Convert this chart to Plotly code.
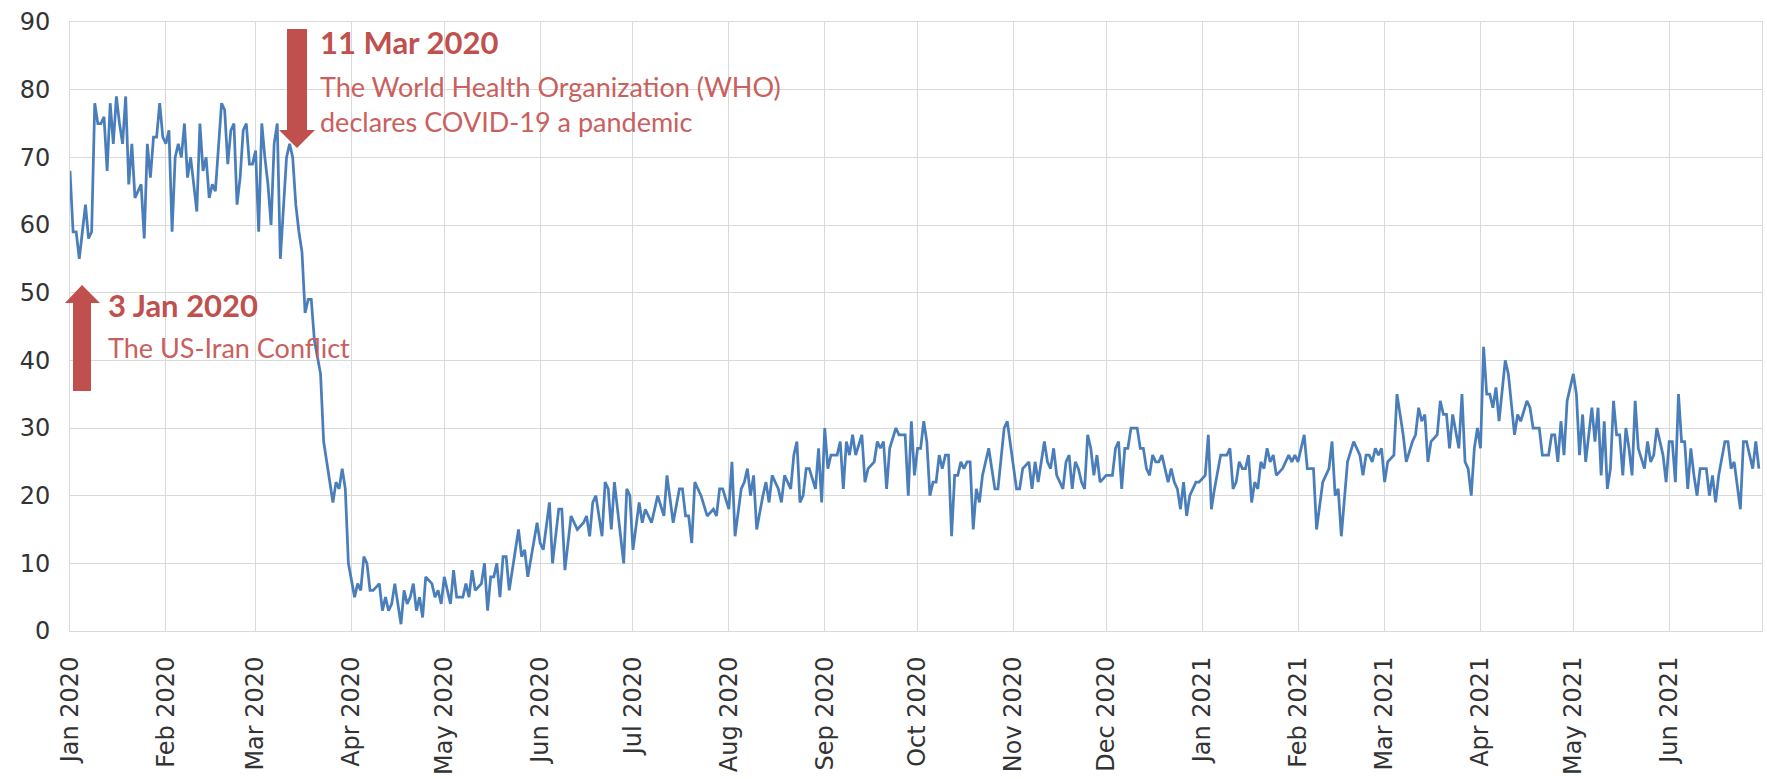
import pandas as pd
import plotly.graph_objects as go

START = pd.Timestamp('2020-01-01')

# day offsets from 1 Jan 2020 and the index values
days_q1_2020 = [0, 1, 2, 3, 4, 5, 6, 7, 8, 9, 10, 11, 12, 13, 14, 15, 16, 17, 18, 19,
                20, 21, 22, 23, 24, 25, 26, 27, 28, 29, 30, 31, 32, 33, 34, 35, 36, 37, 38, 39,
                40, 41, 42, 43, 44, 45, 46, 47, 49, 50, 51, 52, 53, 54, 55, 56, 57, 58, 59, 60,
                61, 62, 63, 64, 65, 66, 67, 68, 70, 71, 72, 73, 74, 75, 76, 77, 78, 79, 81, 82,
                83, 85, 86, 87, 88, 89]
vals_q1_2020 = [68, 59, 59, 55, 59, 63, 58, 59, 78, 75, 75, 76, 68, 78, 72, 79, 75, 72, 79, 66,
                72, 64, 65, 66, 58, 72, 67, 73, 73, 78, 73, 72, 74, 59, 70, 72, 70, 75, 67, 70,
                66, 62, 75, 68, 70, 64, 66, 65, 78, 77, 69, 74, 75, 63, 67, 74, 75, 69, 69, 71,
                59, 75, 70, 66, 60, 72, 75, 55, 70, 72, 70, 63, 59, 56, 47, 49, 49, 43, 38, 28,
                25, 19, 22, 21, 24, 21]

days_q2_2020 = [90, 92, 93, 94, 95, 96, 97, 98, 100, 101, 102, 103, 104, 105, 107, 108, 109, 110,
                111, 112, 113, 114, 115, 117, 118, 119, 120, 121, 122, 123, 124, 125, 126, 127,
                128, 129, 130, 131, 133, 134, 135, 136, 137, 138, 139, 140, 141, 142, 144, 145,
                146, 147, 148, 150, 151, 152, 153, 155, 156, 158, 159, 160, 162, 163, 164, 166,
                167, 168, 169, 170, 171, 172, 173, 174, 175, 176, 177, 179, 180, 181]
vals_q2_2020 = [10, 5, 7, 6, 11, 10, 6, 6, 7, 3, 5, 3, 4, 7, 1, 6, 4, 5,
                7, 3, 5, 2, 8, 7, 5, 6, 4, 8, 6, 4, 9, 5, 5, 5,
                7, 5, 9, 6, 7, 10, 3, 8, 8, 10, 5, 11, 11, 6, 12, 15,
                11, 12, 8, 13, 16, 13, 12, 19, 10, 18, 18, 9, 17, 16, 15, 16,
                17, 14, 19, 20, 17, 14, 22, 21, 15, 22, 18, 10, 21, 20]

days_q3_2020 = [182, 184, 185, 186, 188, 190, 192, 193, 195, 197, 198, 199, 200, 201, 202, 204,
                206, 208, 209, 210, 211, 213, 214, 215, 217, 218, 219, 220, 221, 222, 224, 225,
                226, 227, 229, 230, 231, 233, 234, 235, 236, 237, 238, 239, 241, 242, 243, 244,
                245, 246, 248, 249, 250, 251, 252, 253, 254, 256, 257, 258, 260, 261, 262, 263,
                264, 265, 267, 268, 270, 271, 272, 273]
vals_q3_2020 = [12, 19, 16, 18, 16, 20, 17, 23, 16, 21, 21, 17, 17, 13, 22, 20,
                17, 18, 17, 21, 21, 18, 25, 14, 21, 22, 24, 20, 23, 15, 20, 22,
                19, 23, 21, 19, 23, 21, 26, 28, 19, 20, 24, 24, 21, 27, 19, 30,
                24, 26, 26, 28, 21, 28, 26, 29, 26, 29, 22, 24, 25, 28, 27, 28,
                21, 27, 30, 29, 29, 20, 31, 23]

days_q4_2020 = [274, 275, 276, 277, 278, 279, 280, 281, 282, 283, 284, 285, 286, 287, 288, 289,
                290, 291, 292, 293, 294, 295, 297, 299, 300, 302, 303, 306, 307, 308, 310, 311,
                312, 313, 314, 315, 316, 317, 318, 319, 320, 321, 322, 323, 324, 325, 326, 327,
                328, 329, 330, 331, 332, 333, 335, 337, 338, 339, 340, 341, 342, 343, 345, 346,
                347, 348, 349, 350, 351, 352, 353, 355, 356, 357, 358, 359, 360, 361, 362, 364,
                365]
vals_q4_2020 = [27, 27, 31, 28, 20, 22, 22, 26, 24, 26, 26, 14, 23, 23, 25, 24,
                25, 25, 15, 21, 19, 23, 27, 21, 21, 30, 31, 21, 21, 24, 25, 21,
                25, 22, 25, 28, 25, 24, 27, 23, 22, 21, 25, 26, 21, 25, 24, 22,
                21, 29, 27, 23, 26, 22, 23, 23, 27, 28, 21, 27, 27, 30, 30, 27,
                27, 24, 23, 26, 25, 25, 26, 22, 24, 22, 21, 18, 22, 17, 20, 22,
                22]

days_q1_2021 = [367, 368, 369, 370, 372, 374, 375, 376, 377, 378, 379, 380, 381, 382, 383, 384,
                385, 386, 387, 388, 389, 390, 392, 394, 395, 396, 397, 399, 400, 402, 403, 405,
                407, 408, 409, 410, 411, 413, 415, 417, 418, 419, 420, 421, 422, 423, 424, 425,
                426, 428, 429, 431, 432, 434, 435, 436, 437, 438, 439, 440, 442, 443, 444, 445,
                446, 447, 449, 450, 451, 452, 453, 454]
vals_q1_2021 = [23, 29, 18, 21, 26, 26, 27, 21, 22, 25, 24, 24, 26, 19, 22, 21,
                25, 24, 27, 25, 26, 23, 24, 26, 25, 26, 25, 29, 24, 24, 15, 22,
                24, 28, 20, 21, 14, 25, 28, 26, 23, 26, 26, 25, 27, 26, 27, 22,
                25, 26, 35, 29, 25, 28, 29, 33, 31, 32, 25, 28, 29, 34, 32, 32,
                27, 32, 27, 35, 25, 24, 20, 27]

days_q2_2021 = [455, 456, 457, 458, 459, 460, 461, 462, 464, 465, 467, 468, 469, 471, 472, 473,
                475, 476, 478, 479, 480, 481, 482, 483, 484, 486, 487, 488, 489, 490, 492, 493,
                494, 495, 496, 497, 498, 499, 500, 501, 502, 503, 504, 505, 506, 507, 509, 510,
                511, 512, 513, 515, 516, 517, 518, 519, 520, 521, 522, 523, 524, 525, 526, 527,
                529, 530, 531, 532, 533, 535, 536, 537, 538, 540, 541, 542, 544, 545, 546]
vals_q2_2021 = [30, 27, 42, 35, 35, 33, 36, 31, 40, 38, 29, 32, 31, 34, 33, 30,
                30, 26, 26, 29, 29, 25, 31, 26, 34, 38, 35, 26, 32, 25, 33, 28,
                33, 23, 31, 21, 24, 34, 29, 29, 23, 30, 27, 23, 34, 27, 24, 28,
                25, 26, 30, 26, 22, 28, 28, 22, 35, 28, 28, 21, 27, 23, 20, 24,
                24, 20, 23, 19, 23, 28, 28, 24, 25, 18, 28, 28, 24, 28, 24]

days = (days_q1_2020 + days_q2_2020 + days_q3_2020 + days_q4_2020
        + days_q1_2021 + days_q2_2021)
vals = (vals_q1_2020 + vals_q2_2020 + vals_q3_2020 + vals_q4_2020
        + vals_q1_2021 + vals_q2_2021)
dates = START + pd.to_timedelta(days, unit='D')

month_ticks = pd.date_range('2020-01-01', '2021-07-01', freq='MS')
month_labels = [d.strftime('%b %Y') for d in month_ticks[:-1]] + ['']

RED = '#C0504D'
RED_TEXT = '#C9605D'
GRID = '#D9D9D9'

# figure geometry in pixels
W, H = 1767, 779
ML, MR, MT, MB = 70, 5, 22, 148


def to_paper(x, y):
    return (x - ML) / (W - ML - MR), (H - MB - y) / (H - MT - MB)


def arrow_path(points):
    pts = [to_paper(x, y) for x, y in points]
    return 'M ' + ' L '.join(f'{px:.5f},{py:.5f}' for px, py in pts) + ' Z'


down_arrow = [(287, 29), (307, 29), (307, 130), (315, 130), (297, 148), (279, 130), (287, 130)]
up_arrow = [(73, 391), (91, 391), (91, 303), (100, 303), (82, 285), (65, 303), (73, 303)]

fig = go.Figure()
fig.add_trace(go.Scatter(x=dates, y=vals, mode='lines',
                         line=dict(color='#4A7EBB', width=2.75), showlegend=False))

for pts in (down_arrow, up_arrow):
    fig.add_shape(type='path', xref='paper', yref='paper', path=arrow_path(pts),
                  fillcolor=RED, line=dict(width=0), layer='above')


def label(x, y, text, bold=False):
    px, py = to_paper(x, y)
    fig.add_annotation(x=px, y=py, xref='paper', yref='paper', text=f'<b>{text}</b>' if bold else text,
                       showarrow=False, xanchor='left', yanchor='middle',
                       font=dict(family='Lato', size=31 if bold else 27,
                                 color=RED if bold else RED_TEXT))


label(318, 42, '11 Mar 2020', bold=True)
label(318, 86, 'The World Health Organization (WHO)')
label(318, 121, 'declares COVID-19 a pandemic')
label(106, 305, '3 Jan 2020', bold=True)
label(106, 347, 'The US-Iran Conflict')

fig.update_layout(
    width=W, height=H,
    margin=dict(l=ML, r=MR, t=MT, b=MB),
    plot_bgcolor='white', paper_bgcolor='white',
    font=dict(family='DejaVu Sans', size=24, color='#333333'),
)
fig.update_xaxes(range=['2020-01-01', '2021-07-01'], tickvals=month_ticks, ticktext=month_labels,
                 tickangle=-90, showgrid=True, gridcolor=GRID, gridwidth=1,
                 showline=True, linecolor=GRID, mirror=True, zeroline=False,
                 ticks='', ticklabelstandoff=15, automargin=False)
fig.update_yaxes(range=[0, 90], dtick=10, showgrid=True, gridcolor=GRID, gridwidth=1,
                 showline=True, linecolor=GRID, mirror=True, zeroline=False,
                 ticks='', ticklabelstandoff=14, automargin=False)

# drop the browser's default body margin so the figure sits at the window's corner
fig.write_html('out.html', config={'displayModeBar': False},
               post_script="document.body.style.margin = '0';")
